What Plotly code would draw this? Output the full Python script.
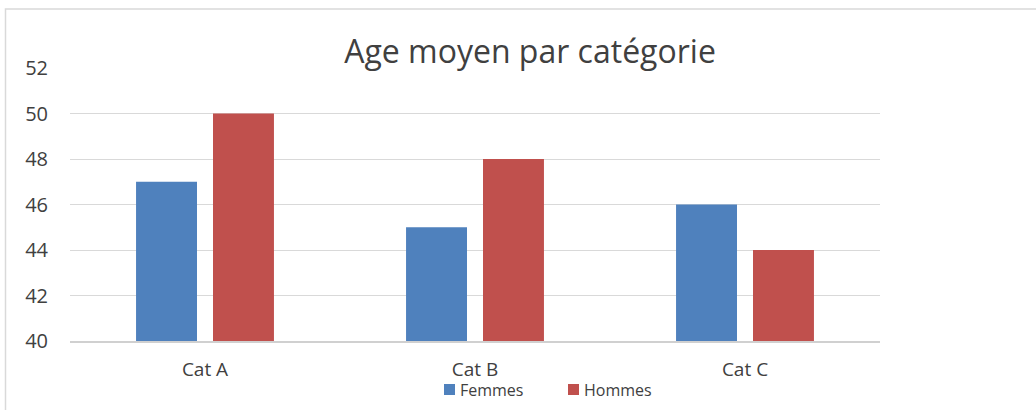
import plotly.graph_objects as go

categories = ["Cat A", "Cat B", "Cat C"]
femmes = [47, 45, 46]
hommes = [50, 48, 44]
y_ticks = [40, 42, 44, 46, 48, 50, 52]
series_names = ["Femmes", "Hommes"]
series_colors = ["#4F81BD", "#C0504D"]

W, H = 1036, 410
L, R, T, B = 70, 156, 68, 69
pw, ph = W - L - R, H - T - B


def px_x(x):
    return (x - L) / pw


def px_y(y):
    return (H - B - y) / ph


fig = go.Figure()
for name, vals, col in zip(series_names, [femmes, hommes], series_colors):
    fig.add_trace(go.Bar(name=name, x=categories, y=vals, marker_color=col, marker_line_width=0,
                         showlegend=False))

font = "Open Sans, sans-serif"
fig.update_layout(
    width=W, height=H,
    margin=dict(l=L, r=R, t=T, b=B, autoexpand=False),
    paper_bgcolor="white", plot_bgcolor="white",
    barmode="group", bargap=0.43, bargroupgap=0.208,
    title=dict(text="Age moyen par catégorie", x=px_x(530), xref="paper", xanchor="center",
               y=1 - 52 / H, yanchor="middle", font=dict(family=font, size=32, color="#404040")),
    font=dict(family=font, color="#404040"),
    xaxis=dict(showgrid=False, showline=True, linecolor="#D0D0D0", linewidth=1.5, ticks="",
               automargin=False,
               tickfont=dict(family=font, size=19, color="#404040"), ticklabelstandoff=10),
    yaxis=dict(range=[40, 52], tickvals=y_ticks, showgrid=True, gridcolor="#D9D9D9", gridwidth=1.2,
               zeroline=False, showline=False, ticks="", automargin=False,
               tickfont=dict(family=font, size=20, color="#404040"), ticklabelstandoff=21),
)

# manual legend (squares + labels) placed below the plot
legend_sq_x = [444, 568]
for name, col, sx in zip(series_names, series_colors, legend_sq_x):
    fig.add_shape(type="rect", xref="paper", yref="paper",
                  x0=px_x(sx), x1=px_x(sx + 11), y0=px_y(395), y1=px_y(384),
                  line=dict(width=0), fillcolor=col)
    fig.add_annotation(text=name, xref="paper", yref="paper", x=px_x(sx + 14), y=px_y(390),
                       xanchor="left", yanchor="middle", showarrow=False,
                       font=dict(family=font, size=16, color="#404040"))

# chart border (extends past the visible window on right and bottom)
fig.add_shape(type="rect", xref="paper", yref="paper",
              x0=px_x(5.5), x1=px_x(1100), y0=px_y(470), y1=px_y(9),
              line=dict(color="#D9D9D9", width=1.5), fillcolor="rgba(0,0,0,0)", layer="below")

fig.write_html("out.html", config={"displayModeBar": False},
               post_script="document.body.style.margin='0px';document.body.style.overflow='hidden';")
